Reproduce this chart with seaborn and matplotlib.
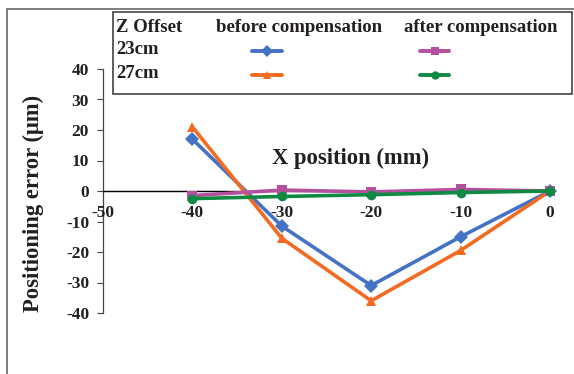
import matplotlib
matplotlib.use("Agg")
import matplotlib.pyplot as plt
import matplotlib.patches as mpatches
from matplotlib.lines import Line2D
import pandas as pd
import seaborn as sns

# data
x_pos = [-40, -30, -20, -10, 0]
before_23 = [17, -11.5, -31, -15, 0]
before_27 = [21, -15.5, -36, -19.5, 0]
after_23 = [-1.5, 0.3, -0.3, 0.5, 0]
after_27 = [-2.5, -1.8, -1.2, -0.5, 0]

series_names = ["before 23cm", "before 27cm", "after 23cm", "after 27cm"]
colors = {"before 23cm": "#4472C4", "before 27cm": "#F26B21",
          "after 23cm": "#B5509F", "after 27cm": "#0E8A43"}
markers = {"before 23cm": "D", "before 27cm": "^",
           "after 23cm": "s", "after 27cm": "o"}

x_ticks = [-50, -40, -30, -20, -10, 0]
y_ticks = [-40, -30, -20, -10, 0, 10, 20, 30, 40]

df = pd.concat([
    pd.DataFrame({"x": x_pos, "err": vals, "series": name})
    for name, vals in zip(series_names, [before_23, before_27, after_23, after_27])
])

sns.set_style("white")
plt.rcParams['font.family'] = ['Liberation Serif', 'DejaVu Serif']
plt.rcParams['font.weight'] = 'bold'
text_color = "#231f20"

W, H = 574, 374
fig = plt.figure(figsize=(W / 100, H / 100), dpi=100)
ax = fig.add_axes([103 / W, 1 - 313 / H, (550 - 103) / W, (313 - 69) / H])

sns.lineplot(data=df, x="x", y="err", hue="series", style="series",
             hue_order=series_names, palette=colors, markers=markers,
             dashes=False, markersize=7, markeredgewidth=0, linewidth=2.6,
             legend=False, ax=ax)
for ln in ax.lines:
    ln.set_clip_on(False)

ax.set_xlim(-50, 0)
ax.set_ylim(-40, 40)
ax.set_xticks(x_ticks)
ax.set_yticks(y_ticks)
ax.set_xticklabels([str(v) for v in x_ticks])
ax.set_yticklabels([str(v) for v in y_ticks])

for s in ["top", "right"]:
    ax.spines[s].set_visible(False)
ax.spines["bottom"].set_position(("data", 0))
ax.spines["bottom"].set_color("black")
ax.spines["bottom"].set_linewidth(1.0)
ax.spines["left"].set_color("#444444")
ax.spines["left"].set_linewidth(0.9)
ax.spines["left"].set_zorder(0)
ax.spines["bottom"].set_zorder(0)

ax.tick_params(axis="x", direction="in", length=4, width=0.8, pad=10,
               labelsize=12.5, colors="#444444", labelcolor=text_color)
ax.tick_params(axis="y", direction="out", length=4, width=0.8, pad=6,
               labelsize=12.5, colors="#444444", labelcolor=text_color, left=True)
for lab in ax.get_xticklabels() + ax.get_yticklabels():
    lab.set_fontweight("bold")

ax.set_xlabel("X position (mm)", fontsize=16.3, fontweight="bold", color=text_color)
ax.xaxis.set_label_coords((351 - 103) / 447, (313 - 158) / 244)
ax.xaxis.label.set_va("center")
ax.set_ylabel("Positioning error (μm)", fontsize=16.3, fontweight="bold", color=text_color)
ax.yaxis.set_label_coords((33 - 103) / 447, (313 - 203) / 244)
ax.yaxis.label.set_va("center")

# outer frame of the original figure
fig.patches.append(mpatches.Rectangle((7 / W, -0.02), 1.05, 1 - 9 / H + 0.02,
                                      transform=fig.transFigure, fill=False,
                                      edgecolor="#666666", linewidth=1.2))

# legend table
fig.patches.append(mpatches.Rectangle((113 / W, 1 - 94 / H), (572 - 113) / W, (94 - 12) / H,
                                      transform=fig.transFigure, fill=False,
                                      edgecolor="#333333", linewidth=1.1, zorder=5))

def fx(px):
    return px / W

def fy(py):
    return 1 - py / H

leg_kw = dict(fontsize=13.5, fontweight="bold", color=text_color, va="center")
fig.text(fx(116), fy(27), "Z Offset", ha="left", **leg_kw)
fig.text(fx(299), fy(27), "before compensation", ha="center", **leg_kw)
fig.text(fx(481), fy(27), "after compensation", ha="center", **leg_kw)
fig.text(fx(116), fy(50), "23cm", ha="left", **leg_kw)
fig.text(fx(116), fy(73), "27cm", ha="left", **leg_kw)

samples = [("before 23cm", 252, 282, 51), ("before 27cm", 252, 282, 75),
           ("after 23cm", 420, 449, 51), ("after 27cm", 420, 449, 75)]
for name, x0, x1, yy in samples:
    fig.lines.append(Line2D([fx(x0), fx(x1)], [fy(yy), fy(yy)], transform=fig.transFigure,
                            color=colors[name], linewidth=2.8, solid_capstyle="round"))
    fig.lines.append(Line2D([fx((x0 + x1) / 2)], [fy(yy)], transform=fig.transFigure,
                            color=colors[name], marker=markers[name], markersize=6,
                            markeredgewidth=0, linestyle="none"))

fig.savefig("out.png", dpi=100)
